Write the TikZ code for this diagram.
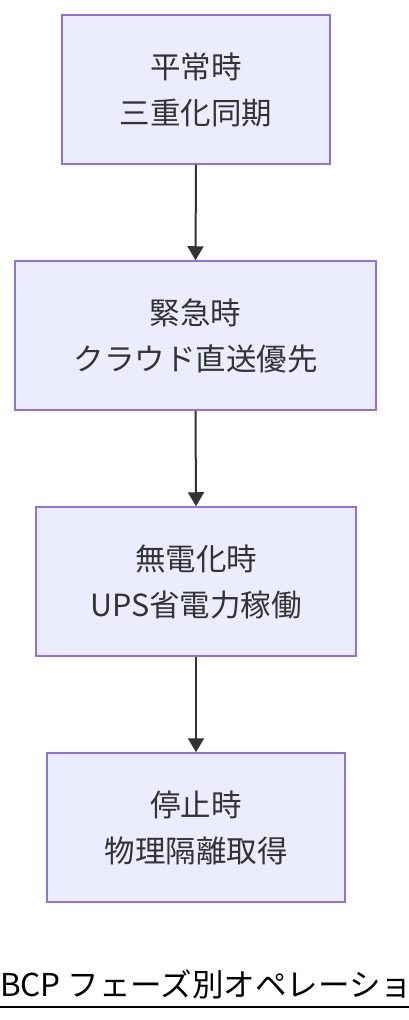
\documentclass[tikz,border=0pt]{standalone}
\usepackage{fontspec}
\newfontfamily\jp{Noto Sans CJK JP}
\usetikzlibrary{arrows.meta}
\definecolor{boxfill}{HTML}{ECECFF}
\definecolor{boxline}{HTML}{9370DB}
\definecolor{ink}{HTML}{333333}
\begin{document}
\begin{tikzpicture}[x=1pt,y=-1pt,
  box/.style={draw=boxline, fill=boxfill, line width=1.5pt, minimum height=149pt,
    inner sep=0pt, align=center, text=ink, font=\jp\fontsize{30.5}{46}\selectfont},
  arr/.style={draw=ink, line width=2pt, -{Triangle[width=16pt,length=14pt]}, shorten >=0pt}]
\useasboundingbox (0,0) rectangle (408,1020);
\node[box, minimum width=268pt] (n1) at (196,89.5) {平常時\\三重化同期};
\node[box, minimum width=361pt] (n2) at (195.5,335.5) {緊急時\\クラウド直送優先};
\node[box, minimum width=320pt] (n3) at (196,581.5) {無電化時\\UPS省電力稼働};
\node[box, minimum width=298pt] (n4) at (196,827.5) {停止時\\物理隔離取得};
\draw[arr] (n1.south) -- (n2.north);
\draw[arr] (n2.south) -- (n3.north);
\draw[arr] (n3.south) -- (n4.north);
\node[anchor=base west, inner sep=0pt, font=\jp\fontsize{31.5}{36}\selectfont] (title) at (0,996) {BCP フェーズ別オペレーショ};
\draw[line width=2.5pt] ([yshift=-11pt]title.base west) -- ([yshift=-11pt]title.base east);
\end{tikzpicture}
\end{document}
